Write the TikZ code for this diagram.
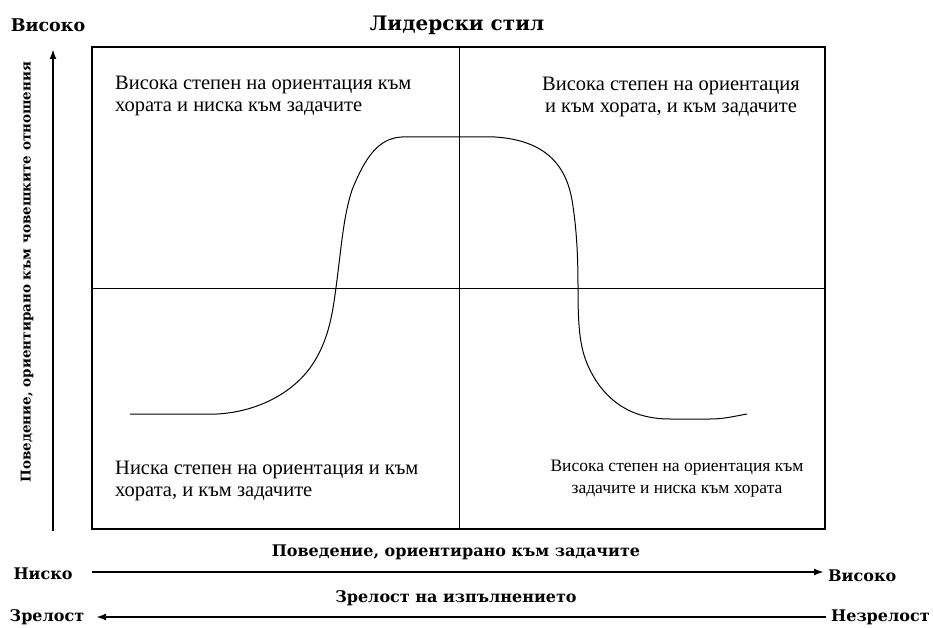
\documentclass[tikz,border=0pt]{standalone}
\usepackage{fontspec}
\setmainfont{Liberation Serif}
\newfontfamily\lblfont{DejaVu Serif}
\usetikzlibrary{arrows.meta}
\tikzset{
  quad/.style={font=\fontsize{20.5}{22}\selectfont, align=left, inner sep=0pt},
  lbl/.style={font=\lblfont\bfseries\fontsize{16}{18}\selectfont, inner sep=0pt},
  axis/.style={line width=2pt, -{Latex[length=10pt,width=7pt]}},
  frame/.style={line width=1.1pt},
  divider/.style={line width=1pt},
  curve/.style={line width=1pt}
}
\begin{document}
\begin{tikzpicture}[x=1pt,y=-1pt]
\useasboundingbox (0,0) rectangle (933,628);
% frame
\draw[frame] (92,47) rectangle (825,529);
\coordinate (vt) at (459,47);
\coordinate (vb) at (459,529);
\coordinate (hl) at (92,288);
\coordinate (hr) at (825,288);
\draw[divider] (vt) -- (vb);
\draw[divider] (hl) -- (hr);
% curve
\draw[curve] (130,414) -- (217,414)
  .. controls (255,412) and (290,395) .. (310,368)
  .. controls (330,340) and (333,310) .. (337,280)
  .. controls (342,240) and (344,215) .. (352,190)
  .. controls (365,158) and (378,138) .. (402,137)
  -- (495,137)
  .. controls (540,140) and (565,160) .. (572,200)
  .. controls (577,230) and (578,260) .. (578,288)
  .. controls (578,330) and (580,350) .. (590,370)
  .. controls (605,400) and (630,419) .. (670,419)
  -- (710,419) .. controls (725,419) and (735,416) .. (747,414);
% titles
\node[lbl, font=\lblfont\bfseries\fontsize{17.5}{20}\selectfont] (hi) at (48,25) {Високо};
\node[lbl, font=\lblfont\bfseries\fontsize{20}{22}\selectfont] (title) at (457,25) {Лидерски стил};
% vertical axis
\coordinate (ya) at (53,531);
\coordinate (yb) at (53,49);
\draw[axis] (ya) -- (yb);
\node[lbl, font=\lblfont\bfseries\fontsize{13.5}{16}\selectfont, rotate=90] (ylab) at (27,272) {Поведение, ориентирано към човешките отношения};
% quadrant texts
\node[quad, anchor=west] (q1) at (115,96) {Висока степен на ориентация към\\хората и ниска към задачите};
\node[quad, align=center] (q2) at (671,97) {Висока степен на ориентация\\и към хората, и към задачите};
\node[quad, anchor=west] (q3) at (115,481) {Ниска степен на ориентация и към\\хората, и към задачите};
\node[quad, align=center, font=\fontsize{17.5}{22}\selectfont] (q4) at (677,479) {Висока степен на ориентация към\\задачите и ниска към хората};
% bottom axes
\node[lbl] (low) at (43,574) {Ниско};
\node[lbl, anchor=west] (high) at (828,576) {Високо};
\coordinate (xa) at (92,572);
\coordinate (xb) at (824,572);
\draw[axis] (xa) -- (xb);
\node[lbl] (xlab1) at (456,552) {Поведение, ориентирано към задачите};
\node[lbl] (mat) at (47,617) {Зрелост};
\node[lbl, anchor=west] (immat) at (831,617) {Незрелост};
\coordinate (za) at (826,617);
\coordinate (zb) at (96,617);
\draw[axis] (za) -- (zb);
\node[lbl] (xlab2) at (456,598) {Зрелост на изпълнението};
\end{tikzpicture}
\end{document}
